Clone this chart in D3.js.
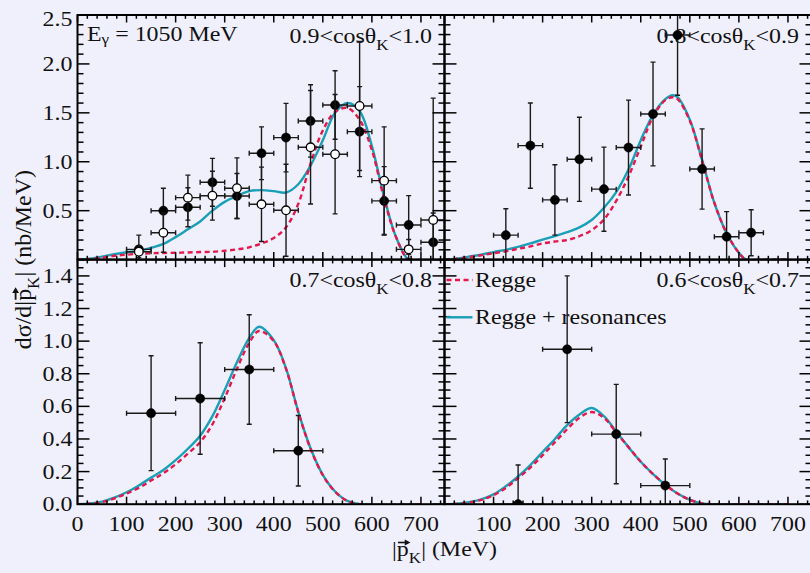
<!DOCTYPE html>
<html>
<head>
<meta charset="utf-8">
<script src="https://cdn.jsdelivr.net/npm/d3@7"></script>
<style>
  html, body { margin: 0; padding: 0; background: #f0f0fc; }
  svg { display: block; }
  text { font-family: "Liberation Serif", "Times New Roman", serif; fill: #111; }
</style>
</head>
<body>
<svg id="chart" width="810" height="573"></svg>
<script>
// ---------------- data ----------------
// Model curves: K+ momentum grid (MeV) and dσ/d|p_K| (nb/MeV) for each cosθ_K bin
const curveP_09   = [0,25,50,75,100,125,150,175,200,225,250,275,300,325,350,375,400,425,450,475,500,525,550,575,600,625,650,675,700];
const regge_09    = [0,0.005,0.02,0.04,0.05,0.06,0.065,0.068,0.07,0.073,0.077,0.08,0.09,0.105,0.125,0.165,0.22,0.33,0.57,0.98,1.32,1.51,1.55,1.43,1.12,0.62,0.22,0,0];
const reggeRes_09 = [0,0.01,0.03,0.055,0.075,0.09,0.12,0.16,0.23,0.31,0.39,0.50,0.59,0.65,0.70,0.71,0.70,0.685,0.77,0.96,1.22,1.50,1.60,1.52,1.16,0.64,0.22,0,0];

const curveP_08   = [0,25,50,75,100,125,150,175,200,225,250,275,300,325,350,375,400,425,450,465,475,500,525,550,575,600,615,650,700];
const regge_08    = [0,0.008,0.025,0.045,0.065,0.085,0.11,0.135,0.165,0.185,0.20,0.24,0.30,0.41,0.60,0.85,1.155,1.46,1.63,1.66,1.64,1.42,1.01,0.58,0.27,0.07,0,0,0];
const reggeRes_08 = [0,0.01,0.03,0.05,0.077,0.10,0.13,0.165,0.205,0.24,0.28,0.33,0.405,0.53,0.69,0.92,1.22,1.48,1.64,1.68,1.66,1.43,1.02,0.58,0.27,0.07,0,0,0];

const curveP_07   = [0,25,50,75,100,125,150,175,200,225,250,275,300,325,350,370,400,425,450,475,500,525,550,575,700];
const regge_07    = [0,0.003,0.013,0.035,0.065,0.10,0.145,0.19,0.245,0.31,0.38,0.49,0.65,0.83,0.99,1.062,1.0,0.83,0.565,0.34,0.178,0.077,0.02,0,0];
const reggeRes_07 = [0,0.004,0.016,0.04,0.073,0.115,0.163,0.21,0.27,0.34,0.42,0.54,0.70,0.87,1.02,1.088,1.006,0.833,0.567,0.343,0.18,0.078,0.02,0,0];

const curveP_06   = [0,25,50,75,100,125,150,175,200,225,250,275,300,325,350,375,400,425,450,475,500,525,550,700];
const regge_06    = [0,0.002,0.01,0.027,0.055,0.10,0.16,0.225,0.30,0.38,0.46,0.53,0.565,0.53,0.44,0.35,0.26,0.185,0.12,0.065,0.027,0.005,0,0];
const reggeRes_06 = [0,0.003,0.012,0.03,0.06,0.11,0.17,0.24,0.32,0.40,0.485,0.55,0.59,0.54,0.445,0.35,0.26,0.185,0.12,0.065,0.027,0.005,0,0];

// Measured points: bin centres (MeV), values and symmetric errors (nb/MeV)
const binP_09     = [125,175,225,275,325,375,425,475,525,575,625,675,725];
const filled_09   = [0.105,0.50,0.535,0.79,0.65,1.087,1.247,1.417,1.58,1.308,0.60,0.354,0.177];
const filledErr_09= [0.145,0.23,0.20,0.245,0.23,0.27,0.35,0.37,0.35,0.46,0.35,0.30,0.30];
const open_09     = [0.08,0.275,0.633,0.653,0.73,0.565,0.504,1.148,1.077,1.57,0.807,0.105,0.405];
const openErr_09  = [0.06,0.20,0.23,0.25,0.31,0.38,0.47,0.58,0.61,0.66,0.55,0.10,1.245];

const binP_08     = [125,175,225,275,325,375,425,475,525,575,625];
const filled_08   = [0.25,1.165,0.61,1.025,0.72,1.145,1.488,2.295,0.926,0.234,0.275];
const filledErr_08= [0.27,0.435,0.36,0.43,0.43,0.485,0.53,0.615,0.41,0.256,0.235];

const binP_07     = [150,250,350,450];
const filled_07   = [0.558,0.648,0.826,0.328];
const filledErr_07= [0.352,0.342,0.336,0.216];

const binP_06     = [150,250,350,450];
const filled_06   = [0.0,0.95,0.43,0.114];
const filledErr_06= [0.24,0.45,0.305,0.163];

// Half widths of the momentum bins (MeV)
const binHalf_top = 25;
const binHalf_bottom = 50;

// Axis ticks and labels
const yTicksTop    = [0.5,1.0,1.5,2.0,2.5];
const yTicksBottom = [0.0,0.2,0.4,0.6,0.8,1.0,1.2,1.4];
const xTicksLeft   = [0,100,200,300,400,500,600,700];
const xTicksRight  = [100,200,300,400,500,600,700];
const binLow  = ["0.9","0.8","0.7","0.6"];
const binHigh = ["1.0","0.9","0.8","0.7"];
const beamLabel = "1050 MeV";
const legendNames = ["Regge","Regge + resonances"];
const yTitle = ["dσ/d|","p","K","| (nb/MeV)"];
const xTitle = ["|","p","K","| (MeV)"];

// ---------------- layout ----------------
const svg = d3.select("#chart");
const FONT = 21, SUB = 15, SX = 1.14;
const COL_LEFT = [77.5, 444.5];
const ROW_TOP = [15, 259.6];
const PW = 367, PH = 244.6, P_MAX = 748;
const RED = "#e5174b", CYAN = "#1a9fb8";

function stretchedText(parent, x, y, anchor) {
  return parent.append("text")
    .attr("transform", `translate(${x},${y}) scale(${SX},1)`)
    .attr("text-anchor", anchor)
    .style("font-size", FONT + "px");
}

const panels = [
  { col:0, row:0, yMax:2.5, yTicks:yTicksTop, minorY:0.1,  p:curveP_09, regge:regge_09, full:reggeRes_09,
    bins:binP_09, half:binHalf_top, sets:[{v:filled_09,e:filledErr_09,open:false},{v:open_09,e:openErr_09,open:true}] },
  { col:1, row:0, yMax:2.5, yTicks:yTicksTop, minorY:0.1,  p:curveP_08, regge:regge_08, full:reggeRes_08,
    bins:binP_08, half:binHalf_top, sets:[{v:filled_08,e:filledErr_08,open:false}] },
  { col:0, row:1, yMax:1.5, yTicks:yTicksBottom, minorY:0.05, p:curveP_07, regge:regge_07, full:reggeRes_07,
    bins:binP_07, half:binHalf_bottom, sets:[{v:filled_07,e:filledErr_07,open:false}] },
  { col:1, row:1, yMax:1.5, yTicks:yTicksBottom, minorY:0.05, p:curveP_06, regge:regge_06, full:reggeRes_06,
    bins:binP_06, half:binHalf_bottom, sets:[{v:filled_06,e:filledErr_06,open:false}] }
];

panels.forEach((pn, i) => {
  const left = COL_LEFT[pn.col], top = ROW_TOP[pn.row];
  const x = d3.scaleLinear().domain([0, P_MAX]).range([left, left + PW]);
  const y = d3.scaleLinear().domain([0, pn.yMax]).range([top + PH, top]);
  const g = svg.append("g");

  const clipId = "clip" + i;
  svg.append("clipPath").attr("id", clipId)
    .append("rect").attr("x", left).attr("y", top).attr("width", PW).attr("height", PH);

  // bin label, e.g. 0.9<cosθK<1.0
  const lab = stretchedText(g, left + PW - 12.5, top + 27.8, "end");
  lab.append("tspan").text(binLow[i] + "<cosθ");
  lab.append("tspan").attr("dy", 7).style("font-size", SUB + "px").text("K");
  lab.append("tspan").attr("dy", -7).text("<" + binHigh[i]);

  if (i === 0) {
    const eg = stretchedText(g, left + 9.5, top + 25.7, "start");
    eg.append("tspan").text("E");
    eg.append("tspan").attr("dy", 3).style("font-size", SUB + "px").text("γ");
    eg.append("tspan").attr("dy", -3).text(" = " + beamLabel);
  }

  const inner = g.append("g").attr("clip-path", `url(#${clipId})`);

  // model curves
  const line = d3.line().curve(d3.curveCatmullRom.alpha(0.5));
  const fullPts = pn.p.map((v, k) => [x(v), y(pn.full[k])]);
  const reggePts = pn.p.map((v, k) => [x(v), y(pn.regge[k])]);
  inner.append("path").attr("d", line(fullPts))
    .attr("fill", "none").attr("stroke", CYAN).attr("stroke-width", 2.4);
  inner.append("path").attr("d", line(reggePts))
    .attr("fill", "none").attr("stroke", RED).attr("stroke-width", 2.4)
    .attr("stroke-dasharray", "5,3.5");

  // measured points with error bars
  pn.sets.forEach(set => {
    const pts = pn.bins.map((b, k) => ({ b, v: set.v[k], e: set.e[k] }));
    const eb = inner.append("g").attr("stroke", "#1a1a1a").attr("stroke-width", 1.4);
    pts.forEach(d => {
      const cx = x(d.b), cy = y(d.v);
      const xl = x(d.b - pn.half), xr = x(d.b + pn.half);
      const yt = y(d.v + d.e), yb = y(d.v - d.e);
      eb.append("line").attr("x1", xl).attr("x2", xr).attr("y1", cy).attr("y2", cy);
      eb.append("line").attr("x1", xl).attr("x2", xl).attr("y1", cy - 2.5).attr("y2", cy + 2.5);
      eb.append("line").attr("x1", xr).attr("x2", xr).attr("y1", cy - 2.5).attr("y2", cy + 2.5);
      eb.append("line").attr("x1", cx).attr("x2", cx).attr("y1", yt).attr("y2", yb);
      eb.append("line").attr("x1", cx - 2.5).attr("x2", cx + 2.5).attr("y1", yt).attr("y2", yt);
      eb.append("line").attr("x1", cx - 2.5).attr("x2", cx + 2.5).attr("y1", yb).attr("y2", yb);
    });
    inner.append("g").selectAll("circle").data(pts).join("circle")
      .attr("cx", d => x(d.b)).attr("cy", d => y(d.v)).attr("r", set.open ? 4.3 : 4.6)
      .attr("fill", set.open ? "#ffffff" : "#000000")
      .attr("stroke", "#000").attr("stroke-width", set.open ? 1.3 : 0.5);
  });

  // frame
  g.append("rect").attr("x", left).attr("y", top).attr("width", PW).attr("height", PH)
    .attr("fill", "none").attr("stroke", "#000").attr("stroke-width", 2);

  // ticks on all four sides, pointing inward
  const tk = g.append("g").attr("stroke", "#000").attr("stroke-width", 1.5);
  const xMajor = d3.range(0, P_MAX, 100);
  const xMinor = d3.range(0, P_MAX, 20).filter(v => v % 100 !== 0);
  [[xMajor, 7.5], [xMinor, 3.8]].forEach(([vals, len]) => {
    vals.forEach(v => {
      tk.append("line").attr("x1", x(v)).attr("x2", x(v)).attr("y1", top + PH).attr("y2", top + PH - len);
      tk.append("line").attr("x1", x(v)).attr("x2", x(v)).attr("y1", top).attr("y2", top + len);
    });
  });
  const nMinor = Math.round(pn.yMax / pn.minorY);
  const yAll = d3.range(0, nMinor + 1).map(k => +(k * pn.minorY).toFixed(3));
  const majorStep = pn.yTicks[1] - pn.yTicks[0];
  yAll.forEach(v => {
    const isMajor = Math.abs(v / majorStep - Math.round(v / majorStep)) < 1e-6;
    const len = isMajor ? 12 : 6;
    tk.append("line").attr("x1", left).attr("x2", left + len).attr("y1", y(v)).attr("y2", y(v));
    tk.append("line").attr("x1", left + PW).attr("x2", left + PW - len).attr("y1", y(v)).attr("y2", y(v));
  });

  // tick labels
  if (pn.col === 0) {
    pn.yTicks.forEach(v => {
      const ty = Math.max(y(v), 19.3);
      stretchedText(svg, left - 5, ty + 7, "end").text(d3.format(".1f")(v));
    });
  }
  if (pn.row === 1) {
    const xt = pn.col === 0 ? xTicksLeft : xTicksRight;
    xt.forEach(v => {
      stretchedText(svg, x(v), 531, "middle").text(v);
    });
  }

  // legend in the last panel
  if (i === 3) {
    const lg = svg.append("g");
    lg.append("line").attr("x1", left + 2).attr("x2", left + 28).attr("y1", 280).attr("y2", 280)
      .attr("stroke", RED).attr("stroke-width", 2.4).attr("stroke-dasharray", "5,3.5");
    stretchedText(lg, left + 30.5, 286.7, "start").text(legendNames[0]);
    lg.append("line").attr("x1", left + 2).attr("x2", left + 28).attr("y1", 317.3).attr("y2", 317.3)
      .attr("stroke", CYAN).attr("stroke-width", 2.4);
    stretchedText(lg, left + 30.5, 323.5, "start").text(legendNames[1]);
  }
});

// axis titles with a vector arrow over p
function vectorTitle(parent, parts, transform, anchor) {
  const grp = parent.append("g").attr("transform", transform);
  const t = grp.append("text").attr("text-anchor", anchor).style("font-size", FONT + "px");
  t.append("tspan").text(parts[0]);
  t.append("tspan").text(parts[1]);
  t.append("tspan").attr("dy", 7).style("font-size", SUB + "px").text(parts[2]);
  t.append("tspan").attr("dy", -7).text(parts[3]);
  const node = t.node();
  const ext = node.getExtentOfChar(parts[0].length);
  const ax0 = ext.x + 1, ax1 = ext.x + ext.width + 1.5, ay = -13.5;
  grp.append("line").attr("x1", ax0).attr("x2", ax1 - 3).attr("y1", ay).attr("y2", ay)
    .attr("stroke", "#111").attr("stroke-width", 1.6);
  grp.append("path").attr("d", `M${ax1},${ay} L${ax1 - 5},${ay - 3} L${ax1 - 5},${ay + 3} Z`).attr("fill", "#111");
}
vectorTitle(svg, xTitle, `translate(${COL_LEFT[1]},556) scale(${SX},1)`, "middle");
vectorTitle(svg, yTitle, `translate(31,${ROW_TOP[1]}) rotate(-90) scale(${SX},${SX})`, "middle");
</script>
</body>
</html>
